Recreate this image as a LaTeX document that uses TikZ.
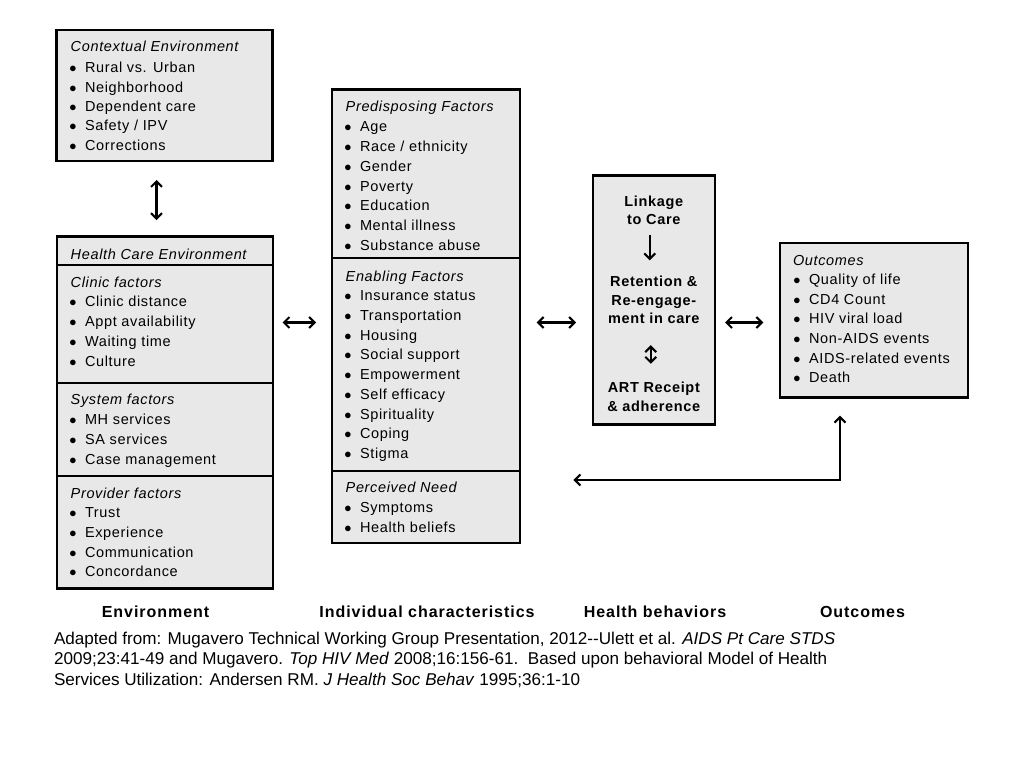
\documentclass[tikz,border=0pt]{standalone}
\usepackage{fontspec}
\setmainfont{Liberation Sans}
\newfontfamily\boxfont[LetterSpace=4.5]{Liberation Sans}
\newfontfamily\lblfont[LetterSpace=6]{Liberation Sans}
\newfontfamily\citefont{Liberation Sans}
\usetikzlibrary{arrows.meta,calc}
\definecolor{boxgray}{RGB}{232,232,232}
\newcommand\itemlist[5]{%
  \foreach \t [count=\i] in {#5} {%
    \node[txt] (#1\i) at (#2, {#3+(\i-1)*#4}) {\llap{\makebox[24pt]{$\bullet$}}\t};}}
\begin{document}
\begin{tikzpicture}[x=1pt,y=-1pt,
  box/.style={draw=black, line width=2.4pt, fill=boxgray, anchor=north west, inner sep=0pt, outer sep=0pt},
  txt/.style={inner sep=0pt, outer sep=0pt, anchor=base west, font=\boxfont\fontsize{14.5}{17}\selectfont},
  ttl/.style={txt, font=\boxfont\itshape\fontsize{14.5}{17}\selectfont},
  btxt/.style={inner sep=0pt, outer sep=0pt, anchor=base, font=\boxfont\bfseries\fontsize{14.5}{17}\selectfont},
  lbl/.style={inner sep=0pt, outer sep=0pt, anchor=base, font=\lblfont\bfseries\fontsize{16}{19}\selectfont},
  cite/.style={inner sep=0pt, outer sep=0pt, anchor=base west, font=\citefont\fontsize{17.1}{20}\selectfont},
  tipb/.tip={Straight Barb[length=5.5pt,width=11pt]},
  arr/.style={line width=2.1pt, tipb-tipb},
  darr/.style={line width=2.1pt, -tipb}
]
\path[use as bounding box] (0,0) rectangle (1024,768);

% ---------- Contextual environment ----------
\node[box, minimum width=216pt, minimum height=131pt] (ctx) at (56.5,30) {};
\node[ttl] (ctx-t) at (70.7,52) {Contextual Environment};
\itemlist{ctx-i}{85}{72.8}{19.3}{Rural vs. Urban, Neighborhood, Dependent care, Safety / IPV, Corrections}

% ---------- Health care environment ----------
\node[box, minimum width=216pt, minimum height=28.2pt] (hce-head) at (57,236.5) {};
\node[box, minimum width=216pt, minimum height=118pt] (hce-clinic) at (57,264.7) {};
\node[box, minimum width=216pt, minimum height=93.3pt] (hce-sys) at (57,382.7) {};
\node[box, minimum width=216pt, minimum height=112.5pt] (hce-prov) at (57,476) {};
\node[ttl] (hce-t) at (70.7,259) {Health Care Environment};
\node[ttl] (clinic-t) at (70.7,287.7) {Clinic factors};
\itemlist{clinic-i}{85}{306.7}{19.9}{Clinic distance, Appt availability, Waiting time, Culture}
\node[ttl] (sys-t) at (70.7,404) {System factors};
\itemlist{sys-i}{85}{424}{20}{MH services, SA services, Case management}
\node[ttl] (prov-t) at (70.7,498) {Provider factors};
\itemlist{prov-i}{85}{517.7}{19.7}{Trust, Experience, Communication, Concordance}

% ---------- Individual characteristics ----------
\node[box, minimum width=188pt, minimum height=168.5pt] (pred) at (331.7,89.5) {};
\node[box, minimum width=188pt, minimum height=213pt] (enab) at (331.7,258) {};
\node[box, minimum width=188pt, minimum height=72pt] (need) at (331.7,471) {};
\node[ttl] (pred-t) at (345.7,111.7) {Predisposing Factors};
\itemlist{pred-i}{360}{131.7}{19.8}{Age, Race / ethnicity, Gender, Poverty, Education, Mental illness, Substance abuse}
\node[ttl] (enab-t) at (345.7,281) {Enabling Factors};
\itemlist{enab-i}{360}{300.7}{19.75}{Insurance status, Transportation, Housing, Social support, Empowerment, Self efficacy, Spirituality, Coping, Stigma}
\node[ttl] (need-t) at (345.7,492.3) {Perceived Need};
\itemlist{need-i}{360}{512}{20}{Symptoms, Health beliefs}

% ---------- Health behaviors ----------
\node[box, minimum width=122.3pt, minimum height=249pt] (beh) at (592.7,175.5) {};
\node[btxt] (bt1) at (653.8,206) {Linkage};
\node[btxt] (bt2) at (653.8,224) {to Care};
\node[btxt] (bt3) at (653.8,286.7) {Retention \&};
\node[btxt] (bt4) at (653.8,305) {Re-engage-};
\node[btxt] (bt5) at (653.8,323.3) {ment in care};
\node[btxt] (bt6) at (653.8,392.7) {ART Receipt};
\node[btxt] (bt7) at (653.8,411.7) {\& adherence};
\draw[darr, shorten <=11pt, shorten >=15.8pt] ([xshift=-4pt]bt2.south) -- ([xshift=-4pt]bt2.south |- bt3.north);
\draw[arr, shorten <=21.7pt, shorten >=18.4pt] ([xshift=-3pt]bt5.south) -- ([xshift=-3pt]bt5.south |- bt6.north);

% ---------- Outcomes ----------
\node[box, minimum width=188pt, minimum height=154.5pt] (out) at (780,243) {};
\node[ttl] (out-t) at (793,265) {Outcomes};
\itemlist{out-i}{809}{284.3}{19.7}{Quality of life, CD4 Count, HIV viral load, Non-AIDS events, AIDS-related events, Death}

% ---------- Connectors ----------
\coordinate (row) at (0,322.5);
\draw[arr, shorten <=19pt, shorten >=16.5pt] ([xshift=-8pt]ctx.south) -- ([xshift=-8pt]ctx.south |- hce-head.north);
\draw[arr, shorten <=9.5pt, shorten >=15.5pt] (hce-clinic.east |- row) -- (pred.west |- row);
\draw[arr, shorten <=17pt, shorten >=16.7pt] (pred.east |- row) -- (beh.west |- row);
\draw[arr, shorten <=10pt, shorten >=16.7pt] (beh.east |- row) -- (out.west |- row);
\coordinate (fbc) at (840,480);
\coordinate (fbl) at (573.3,480);
\draw[arr, shorten >=18.2pt] (fbl) -- (fbc) -- (fbc |- out.south);

% ---------- Column labels ----------
\node[lbl] (l-env) at (155.5,617) {Environment};
\node[lbl] (l-ind) at (427,617) {Individual characteristics};
\node[lbl] (l-beh) at (655,617) {Health behaviors};
\node[lbl] (l-out) at (862.5,617) {Outcomes};

% ---------- Citation ----------
\node[cite] (c1) at (54,644.3) {Adapted from: Mugavero Technical Working Group Presentation, 2012-{}-Ulett et al. \textit{AIDS Pt Care STDS}};
\node[cite] (c2) at (54,664.5) {2009;23:41-49 and Mugavero. \textit{Top HIV Med} 2008;16:156-61.\ \ Based upon behavioral Model of Health};
\node[cite] (c3) at (54,685) {Services Utilization: Andersen RM. \textit{J Health Soc Behav} 1995;36:1-10};
\end{tikzpicture}
\end{document}
